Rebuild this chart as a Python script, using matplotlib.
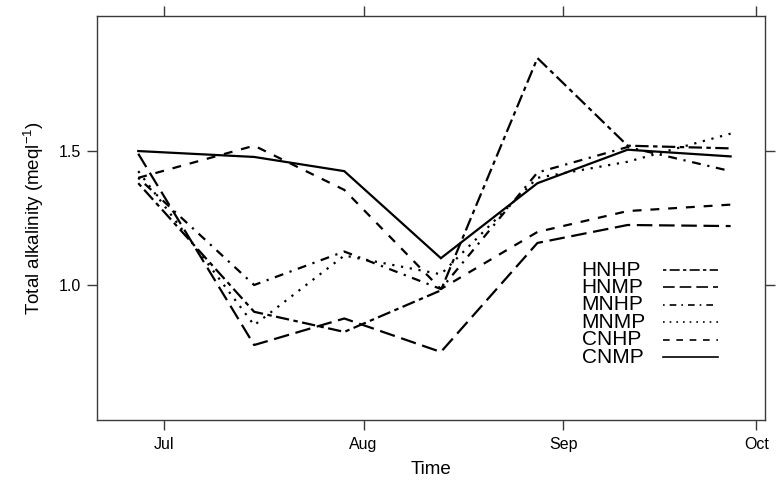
import matplotlib
matplotlib.use("Agg")
import matplotlib.pyplot as plt
import matplotlib.dates as mdates
import numpy as np
import datetime as dt

plt.rcParams['font.family'] = ['Liberation Sans', 'DejaVu Sans']
plt.rcParams['mathtext.fontset'] = 'custom'
plt.rcParams['mathtext.rm'] = 'Liberation Sans'
plt.rcParams['mathtext.it'] = 'Liberation Sans:italic'

dates = ["2009-06-27", "2009-07-15", "2009-07-29", "2009-08-13",
         "2009-08-28", "2009-09-11", "2009-09-27"]
series_names = ["HNHP", "HNMP", "MNHP", "MNMP", "CNHP", "CNMP"]
HNHP = [1.38, 0.90, 0.825, 0.98, 1.847, 1.52, 1.51]
HNMP = [1.49, 0.776, 0.875, 0.75, 1.157, 1.224, 1.22]
MNHP = [1.40, 1.00, 1.125, 0.985, 1.42, 1.515, 1.425]
MNMP = [1.425, 0.85, 1.11, 1.04, 1.40, 1.46, 1.565]
CNHP = [1.40, 1.52, 1.355, 0.985, 1.198, 1.276, 1.30]
CNMP = [1.50, 1.478, 1.425, 1.10, 1.38, 1.505, 1.48]
values = [HNHP, HNMP, MNHP, MNMP, CNHP, CNMP]

yticks = [1.0, 1.5]
xtick_labels = ["Jul", "Aug", "Sep", "Oct"]

# R lty style dash patterns (on, off ...)
dash_styles = {
    "HNHP": (0, (2, 2, 6, 2)),      # twodash
    "HNMP": (0, (7, 3)),            # longdash
    "MNHP": (0, (1, 3, 4, 3)),      # dotdash
    "MNMP": (0, (1, 3)),            # dotted
    "CNHP": (0, (4, 4)),            # dashed
    "CNMP": "-",                    # solid
}

x = [dt.datetime.strptime(d, "%Y-%m-%d") for d in dates]

fig = plt.figure(figsize=(7.78, 4.93), dpi=100)
ax = fig.add_axes([0.1253, 0.148, 0.8580, 0.8195])

lw = 1.6
for name, vals in zip(series_names, values):
    ax.plot(x, vals, color='black', lw=lw, linestyle=dash_styles[name],
            dash_capstyle='butt', solid_joinstyle='miter')

jul1 = mdates.date2num(dt.datetime(2009, 7, 1))
oct1 = mdates.date2num(dt.datetime(2009, 10, 1))
ax.set_xlim(jul1 - 10.33, oct1 + 1.34)
ax.set_ylim(0.496, 2.004)

tick_dates = [dt.datetime(2009, m, 1) for m in (7, 8, 9, 10)]
ax.set_xticks(tick_dates)
ax.set_xticklabels(xtick_labels)
ax.set_yticks(yticks)
ax.set_yticklabels([f"{v:.1f}" for v in yticks])

frame_col = '#3a3a3a'
for sp in ax.spines.values():
    sp.set_color(frame_col)
    sp.set_linewidth(1.0)
ax.tick_params(axis='both', which='both', direction='out', length=7, width=1.0,
               color=frame_col, labelsize=11.5, top=True, right=True,
               labeltop=False, labelright=False, pad=5)

ax.set_xlabel("Time", fontsize=13.5, labelpad=7)
ax.set_ylabel(r"Total alkalinity (meql$^{-1}$)", fontsize=13.5, labelpad=9)

# manual legend (lattice key style)
y0 = 0.3713
step = 0.0432
for i, name in enumerate(series_names):
    yy = y0 - i * step
    ax.text(0.7253, yy, name, transform=ax.transAxes, fontsize=15,
            va='center', ha='left')
    ax.plot([0.847, 0.9296], [yy, yy], transform=ax.transAxes, color='black',
            lw=1.2, linestyle=dash_styles[name], dash_capstyle='butt')

fig.savefig("out.png", dpi=100)
